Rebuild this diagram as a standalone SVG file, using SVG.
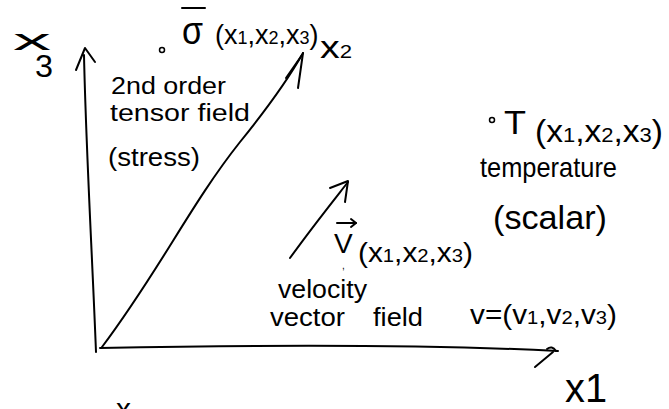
<svg xmlns="http://www.w3.org/2000/svg" width="669" height="409" viewBox="0 0 669 409">
<style>
text{font-family:"Liberation Sans","DejaVu Sans",sans-serif;fill:#000;}
.t{font-size:26px;}
.ln{fill:none;stroke:#000;stroke-width:2;stroke-linecap:round;stroke-linejoin:round;}
</style>
<rect width="669" height="409" fill="#fff"/>
<g id="connectors">
  <path class="ln" d="M96,352 C92,250 86,150 84,55"/>
  <path class="ln" d="M76,70 L85,48 L95,62"/>
  <path class="ln" d="M100,348 C250,345 420,344 558,351"/>
  <path class="ln" d="M535,367 L553,352"/>
  <path class="ln" d="M547,349 Q552,345 556,351" stroke-width="1.5"/>
  <path class="ln" d="M102,347 C160,270 190,205 240,142 C270,105 290,76 303,53"/>
  <path class="ln" d="M303,53 L298,88"/>
  <path class="ln" d="M286,78 L302,55" stroke-width="1.5"/>
  <path class="ln" d="M290,258 C310,230 330,205 348,182"/>
  <path class="ln" d="M330,188 L348,181 L345,202"/>
</g>
<g id="axis-x3">
  <text x="13" y="50" font-size="30" textLength="38" lengthAdjust="spacingAndGlyphs">x</text>
  <text x="35" y="77" font-size="32" textLength="18" lengthAdjust="spacingAndGlyphs">3</text>
</g>
<g id="axis-x2">
  <text x="320" y="58" font-size="32" textLength="32" lengthAdjust="spacingAndGlyphs">x<tspan font-size="18">2</tspan></text>
</g>
<g id="axis-x1">
  <text x="565" y="402" font-size="40" textLength="42" lengthAdjust="spacingAndGlyphs">x1</text>
</g>
<g id="stress-field">
  <circle cx="162" cy="50" r="2.5" fill="none" stroke="#000" stroke-width="1.5"/>
  <line class="ln" x1="182" y1="8" x2="205" y2="8"/>
  <text x="182" y="44" font-size="38" textLength="21" lengthAdjust="spacingAndGlyphs">σ</text>
  <text x="215" y="44" font-size="27">(x<tspan font-size="18">1</tspan>,x<tspan font-size="18">2</tspan>,x<tspan font-size="18">3</tspan>)</text>
  <text x="111" y="94" font-size="23" textLength="115" lengthAdjust="spacingAndGlyphs">2nd order</text>
  <text x="110" y="121" font-size="23" textLength="140" lengthAdjust="spacingAndGlyphs">tensor field</text>
  <text class="t" x="108" y="166" textLength="92" lengthAdjust="spacingAndGlyphs">(stress)</text>
</g>
<g id="temperature-field">
  <circle cx="492" cy="120" r="2.5" fill="none" stroke="#000" stroke-width="1.5"/>
  <text x="504" y="134" font-size="34" textLength="22" lengthAdjust="spacingAndGlyphs">T</text>
  <text x="535" y="142" font-size="32" textLength="128" lengthAdjust="spacingAndGlyphs">(x<tspan font-size="21">1</tspan>,x<tspan font-size="21">2</tspan>,x<tspan font-size="21">3</tspan>)</text>
  <text x="480" y="177" font-size="28" textLength="137" lengthAdjust="spacingAndGlyphs">temperature</text>
  <text font-size="34" x="493" y="229" textLength="114" lengthAdjust="spacingAndGlyphs">(scalar)</text>
</g>
<g id="velocity-field">
  <line class="ln" x1="337" y1="223" x2="356" y2="223" stroke-width="1.5"/>
  <path class="ln" d="M351,219 L356,223 L351,227" stroke-width="1.5"/>
  <text x="334" y="253" font-size="28">V</text>
  <text x="342" y="269" font-size="10">,</text>
  <text x="358" y="262" font-size="28" textLength="115" lengthAdjust="spacingAndGlyphs">(x<tspan font-size="19">1</tspan>,x<tspan font-size="19">2</tspan>,x<tspan font-size="19">3</tspan>)</text>
  <text class="t" x="278" y="298" textLength="89" lengthAdjust="spacingAndGlyphs">velocity</text>
  <text class="t" x="270" y="326" textLength="75" lengthAdjust="spacingAndGlyphs">vector</text>
  <text class="t" x="373" y="326" textLength="50" lengthAdjust="spacingAndGlyphs">field</text>
  <text x="470" y="324" font-size="28" textLength="147" lengthAdjust="spacingAndGlyphs">v=(v<tspan font-size="19">1</tspan>,v<tspan font-size="19">2</tspan>,v<tspan font-size="19">3</tspan>)</text>
</g>
<g id="partial-x">
  <text x="116" y="419" font-size="30">x</text>
</g>
</svg>
